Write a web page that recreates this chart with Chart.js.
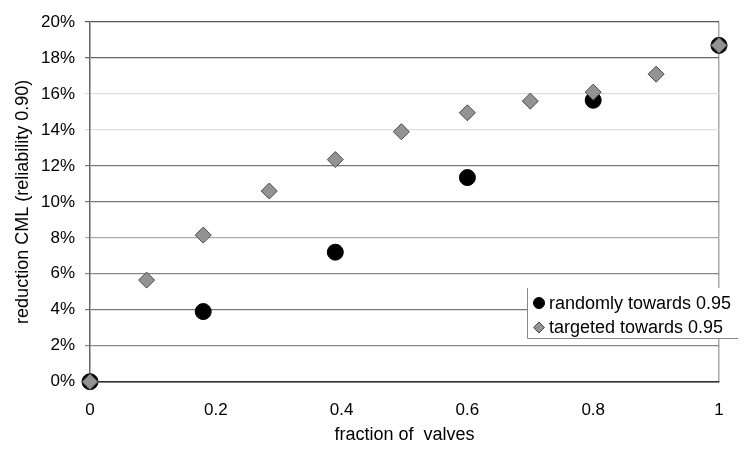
<!DOCTYPE html>
<html>
<head>
<meta charset="utf-8">
<script src="https://cdn.jsdelivr.net/npm/chart.js@4.4.1/dist/chart.umd.min.js"></script>
<style>
  html, body { margin: 0; padding: 0; background: #fff; }
  #wrap { width: 749px; height: 450px; position: relative; }
</style>
</head>
<body>
<div id="wrap"><canvas id="c" width="749" height="450"></canvas></div>
<script>
// ---- data ----
const xTicks = [0, 0.2, 0.4, 0.6, 0.8, 1];
const yTicks = [0, 2, 4, 6, 8, 10, 12, 14, 16, 18, 20];

const randomX = [0, 0.18, 0.39, 0.60, 0.80, 1.00];
const randomY = [0, 3.9, 7.2, 11.35, 15.65, 18.7];

const targetedX = [0, 0.09, 0.18, 0.285, 0.39, 0.495, 0.60, 0.70, 0.80, 0.90, 1.00];
const targetedY = [0, 5.65, 8.15, 10.6, 12.35, 13.9, 14.95, 15.6, 16.1, 17.1, 18.7];

const seriesNames = ['randomly towards 0.95', 'targeted towards 0.95'];
const xTitle = 'fraction of  valves';
const yTitle = 'reduction CML (reliability 0.90)';

const toPoints = (xs, ys) => xs.map((x, i) => ({ x: x, y: ys[i] }));

const gridColors = { 0: '#333', 2: '#888', 4: '#777', 6: '#888', 8: '#aaa', 10: '#777', 12: '#777', 14: '#ddd', 16: '#ddd', 18: '#666', 20: '#555' };

const FONT = 'Liberation Sans, Arial, sans-serif';

const legendPlugin = {
  id: 'boxLegend',
  afterDatasetsDraw(chart) {
    const ctx = chart.ctx;
    const x0 = 527, y0 = 288, w = 211, h = 50;
    ctx.save();
    ctx.fillStyle = '#fff';
    ctx.fillRect(x0, y0, w, h);
    ctx.strokeStyle = '#888';
    ctx.lineWidth = 1;
    ctx.beginPath();
    ctx.moveTo(x0 + 0.5, y0);
    ctx.lineTo(x0 + 0.5, y0 + h + 0.5);
    ctx.lineTo(x0 + w, y0 + h + 0.5);
    ctx.stroke();
    ctx.font = '18px ' + FONT;
    ctx.textBaseline = 'middle';
    ctx.fillStyle = '#000';
    chart.data.datasets.forEach((ds, i) => {
      const cy = 303 + i * 24.5;
      const opts = { pointStyle: ds.pointStyle, radius: 5.5, rotation: 0, borderWidth: 1 };
      ctx.fillStyle = ds.backgroundColor;
      ctx.strokeStyle = ds.borderColor;
      ctx.lineWidth = 1;
      Chart.helpers.drawPoint(ctx, opts, 539, cy);
      ctx.fillStyle = '#000';
      ctx.fillText(ds.label, 549, cy + 1);
    });
    ctx.restore();
  }
};

new Chart(document.getElementById('c'), {
  type: 'scatter',
  data: {
    datasets: [
      {
        label: seriesNames[0],
        data: toPoints(randomX, randomY),
        pointStyle: 'circle',
        pointRadius: 8,
        pointHoverRadius: 8,
        backgroundColor: '#000',
        borderColor: '#000',
        borderWidth: 1,
        order: 1
      },
      {
        label: seriesNames[1],
        data: toPoints(targetedX, targetedY),
        pointStyle: 'rectRot',
        pointRadius: 8,
        pointHoverRadius: 8,
        backgroundColor: '#939393',
        borderColor: '#4a4a4a',
        borderWidth: 1,
        order: 0
      }
    ]
  },
  options: {
    responsive: false,
    animation: false,
    events: [],
    clip: false,
    layout: { padding: { left: 0, right: 30, top: 22, bottom: 0 } },
    plugins: { legend: { display: false }, tooltip: { enabled: false } },
    scales: {
      x: {
        type: 'linear',
        min: 0, max: 1,
        afterBuildTicks: (s) => { s.ticks = xTicks.map(v => ({ value: v })); },
        afterFit: (s) => { s.height = 68.3; },
        ticks: {
          color: '#000',
          font: { family: FONT, size: 17 },
          padding: 18,
          maxRotation: 0,
          callback: (v) => String(v)
        },
        grid: {
          drawTicks: false,
          color: (c) => (c.tick && c.tick.value === 1 ? '#aaa' : 'rgba(0,0,0,0)'),
          lineWidth: 1.5
        },
        border: { display: true, color: '#333', width: 1.5 },
        title: {
          display: true,
          text: xTitle,
          color: '#000',
          font: { family: FONT, size: 18 },
          padding: { top: 0, bottom: 4 }
        }
      },
      y: {
        type: 'linear',
        min: 0, max: 20,
        afterBuildTicks: (s) => { s.ticks = yTicks.map(v => ({ value: v })); },
        afterFit: (s) => { s.width = 90; },
        ticks: {
          color: '#000',
          font: { family: FONT, size: 17 },
          padding: 10,
          callback: (v) => v + '%'
        },
        grid: {
          color: (c) => (c.tick ? (gridColors[c.tick.value] || '#888') : '#888'),
          tickLength: 5,
          lineWidth: 1.2
        },
        border: { display: true, color: '#666', width: 1.5 },
        title: {
          display: true,
          text: yTitle,
          color: '#000',
          font: { family: FONT, size: 18 },
          padding: { top: 12, bottom: 0 }
        }
      }
    }
  },
  plugins: [legendPlugin]
});
</script>
</body>
</html>
